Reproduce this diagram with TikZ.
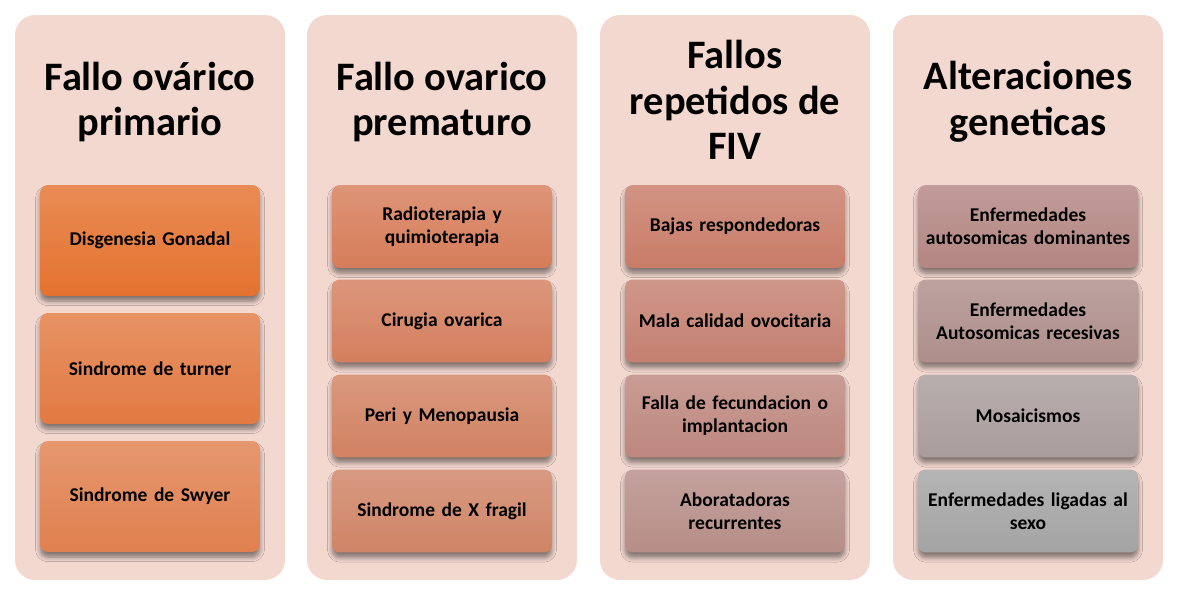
\documentclass[tikz,border=0pt]{standalone}
\usepackage{fontspec}
\setmainfont{Carlito}
\usetikzlibrary{shadows.blur}

\definecolor{panelfill}{HTML}{F3D8D0}
\definecolor{oA}{HTML}{E4722F}
\definecolor{oB}{HTML}{E27A42}
\definecolor{oC}{HTML}{E0804F}
\definecolor{rA}{HTML}{D67D5A}
\definecolor{rB}{HTML}{D47F5E}
\definecolor{rC}{HTML}{D18262}
\definecolor{rD}{HTML}{CF8466}
\definecolor{mA}{HTML}{C87C68}
\definecolor{mB}{HTML}{C48070}
\definecolor{mC}{HTML}{BD877E}
\definecolor{mD}{HTML}{B78D87}
\definecolor{gA}{HTML}{B38682}
\definecolor{gB}{HTML}{AE8E8B}
\definecolor{gC}{HTML}{A99D9C}
\definecolor{gD}{HTML}{A4A4A4}

\begin{document}
\begin{tikzpicture}[x=0.02cm,y=-0.02cm,
    panel/.style={fill=panelfill, rounded corners=0.4cm, minimum width=5.4cm,
      minimum height=11.3cm, inner sep=0pt},
    title/.style={align=center, text=black,
      font=\fontsize{23}{26}\selectfont\bfseries},
    item/.style={rounded corners=0.16cm, minimum width=4.4cm, text width=4.3cm,
      align=center, inner sep=0pt, text=black,
      font=\fontsize{11.1}{13}\selectfont\bfseries,
      top color=#1!82!white, bottom color=#1,
      blur shadow={shadow xshift=0pt, shadow yshift=-3pt,
        shadow blur radius=2.5pt, shadow blur steps=6, shadow opacity=45}},
    tall/.style={minimum height=2.22cm},
    short/.style={minimum height=1.66cm}
  ]
  \useasboundingbox (0,0) rectangle (1180,594);

  % panels
  \foreach \n/\x in {1/150, 2/442, 3/735, 4/1028}
    \node[panel] (p\n) at (\x,297.5) {};

  % titles
  \node[title] (t1) at (150,102) {Fallo ovárico\\primario};
  \node[title] (t2) at (442,102) {Fallo ovarico\\prematuro};
  \node[title] (t3) at (735,100) {Fallos\\repetidos de\\FIV};
  \node[title] (t4) at (1028,102) {Alteraciones\\geneticas};

  % Fallo ovarico primario
  \foreach \n/\y/\c/\txt in {1/240.5/oA/Disgenesia Gonadal,
      2/368.5/oB/Sindrome de turner,
      3/496.5/oC/Sindrome de Swyer}
    \node[item=\c, tall] (a\n) at (150,\y) {\txt};

  % Fallo ovarico prematuro
  \foreach \n/\y/\c/\txt in {1/226.5/rA/Radioterapia y\\quimioterapia,
      2/321/rB/Cirugia ovarica,
      3/416/rC/Peri y Menopausia,
      4/511/rD/Sindrome de X fragil}
    \node[item=\c, short] (b\n) at (442,\y) {\txt};

  % Fallos repetidos de FIV
  \foreach \n/\y/\c/\txt in {1/226.5/mA/Bajas respondedoras,
      2/321/mB/Mala calidad ovocitaria,
      3/416/mC/Falla de fecundacion o\\implantacion,
      4/511/mD/Aboratadoras\\recurrentes}
    \node[item=\c, short] (c\n) at (735,\y) {\txt};

  % Alteraciones geneticas
  \foreach \n/\y/\c/\txt in {1/226.5/gA/Enfermedades\\autosomicas dominantes,
      2/321/gB/Enfermedades\\Autosomicas recesivas,
      3/416/gC/Mosaicismos,
      4/511/gD/Enfermedades ligadas al\\sexo}
    \node[item=\c, short] (d\n) at (1028,\y) {\txt};
\end{tikzpicture}
\end{document}
